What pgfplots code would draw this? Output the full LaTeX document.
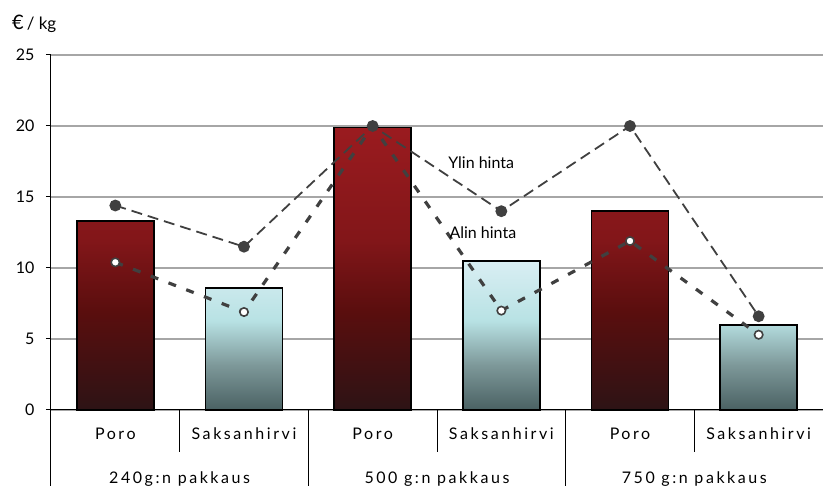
\documentclass[border=0pt]{standalone}
\usepackage{fontspec}
\setmainfont{Lato}
\newfontfamily\spaced[LetterSpace=16]{Lato}
\usepackage{pgfplots}
\pgfplotsset{compat=1.18}

\definecolor{linegray}{HTML}{404040}
\definecolor{gridgray}{HTML}{A6A6A6}
\definecolor{r0}{HTML}{2D1315}
\definecolor{r1}{HTML}{5A0E0E}
\definecolor{r2}{HTML}{821619}
\definecolor{r3}{HTML}{9A1B1F}
\definecolor{c0}{HTML}{4A6163}
\definecolor{c1}{HTML}{7D9899}
\definecolor{c2}{HTML}{B8E2E4}
\definecolor{c3}{HTML}{D9EEF3}

% bar fills: dark at the base, bright at the top
\pgfdeclareverticalshading{redbar}{100bp}{color(0bp)=(r0); color(25bp)=(r0); color(42.5bp)=(r1); color(55bp)=(r2); color(75bp)=(r3); color(100bp)=(r3)}
\pgfdeclareverticalshading{cyanbar}{100bp}{color(0bp)=(c0); color(25bp)=(c0); color(40bp)=(c1); color(55bp)=(c2); color(75bp)=(c3); color(100bp)=(c3)}

\begin{document}
\begin{tikzpicture}
\begin{axis}[
  name=ax,
  scale only axis,
  width=772pt, height=355pt,
  xmin=-0.5, xmax=5.5,
  ymin=0, ymax=25,
  axis lines=left,
  axis line style={-, black, line width=1pt},
  ytick={0,5,...,25},
  ymajorgrids,
  grid style={gridgray, line width=1.1pt},
  tick align=outside,
  major tick length=5pt,
  ytick style={black, line width=1pt},
  xtick={0,...,5},
  xticklabels={Poro,Saksanhirvi,Poro,Saksanhirvi,Poro,Saksanhirvi},
  xtick style={draw=none},
  xticklabel style={anchor=base, yshift=-24pt, font=\fontsize{16}{19}\spaced},
  yticklabel style={font=\fontsize{16}{19}\selectfont, xshift=-8pt},
  /pgf/number format/assume math mode=true,
  clip=false,
]
% package prices
\addplot[ybar, bar width=0.6, bar shift=0pt, draw=black, line width=1.6pt, shading=redbar]
  coordinates {(0,13.3) (2,19.9) (4,14.0)};
\addplot[ybar, bar width=0.6, bar shift=0pt, draw=black, line width=1.6pt, shading=cyanbar]
  coordinates {(1,8.6) (3,10.5) (5,6.0)};

% lowest price
\addplot[linegray, line width=3.2pt, dash pattern=on 8pt off 11pt,
  mark=*, mark size=4.2pt, mark options={solid, fill=white, draw=linegray, line width=1.6pt}]
  coordinates {(0,10.4) (1,6.9) (2,20.0) (3,7.0) (4,11.9) (5,5.3)};
% highest price
\addplot[linegray, line width=1.8pt, dash pattern=on 11pt off 6pt,
  mark=*, mark size=5pt, mark options={solid, fill=linegray, draw=linegray}]
  coordinates {(0,14.4) (1,11.5) (2,20.0) (3,14.0) (4,20.0) (5,6.6)};

\node[anchor=west, font=\fontsize{16}{19}\selectfont] at (axis cs:2.56,17.4) {Ylin hinta};
\node[anchor=west, font=\fontsize{16}{19}\selectfont] at (axis cs:2.57,12.5) {Alin hinta};

% category separators below the axis
\draw[black, line width=1pt] (axis cs:0.5,0) -- ([yshift=-42pt]axis cs:0.5,0);
\draw[black, line width=1pt] (axis cs:2.5,0) -- ([yshift=-42pt]axis cs:2.5,0);
\draw[black, line width=1pt] (axis cs:4.5,0) -- ([yshift=-42pt]axis cs:4.5,0);
\draw[black, line width=1pt] (axis cs:-0.5,0) -- ([yshift=-80pt]axis cs:-0.5,0);
\draw[black, line width=1pt] (axis cs:1.5,0) -- ([yshift=-80pt]axis cs:1.5,0);
\draw[black, line width=1pt] (axis cs:3.5,0) -- ([yshift=-80pt]axis cs:3.5,0);

% package sizes
\node[anchor=base, font=\fontsize{16}{19}\spaced] at ([yshift=-73pt]axis cs:0.5,0) {240g:n pakkaus};
\node[anchor=base, font=\fontsize{16}{19}\spaced] at ([yshift=-73pt]axis cs:2.5,0) {500 g:n pakkaus};
\node[anchor=base, font=\fontsize{16}{19}\spaced] at ([yshift=-73pt]axis cs:4.5,0) {750 g:n pakkaus};

% unit
\node[anchor=west, inner sep=0pt] at ([xshift=-39pt, yshift=31pt]rel axis cs:0,1)
  {{\fontsize{20}{22}\selectfont €}\hspace{3pt}{\fontsize{17}{20}\selectfont / kg}};
\end{axis}
\pgfresetboundingbox
\path ([shift={(-51pt,-76pt)}]ax.south west) rectangle ([shift={(0pt,55pt)}]ax.north east);
\end{tikzpicture}
\end{document}
